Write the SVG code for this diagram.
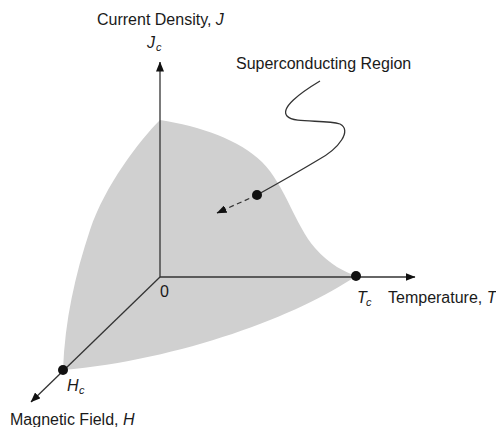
<svg xmlns="http://www.w3.org/2000/svg" width="496" height="427" viewBox="0 0 496 427">
<style>
text{font-family:"Liberation Sans",Arial,sans-serif;fill:#1a1a1a;}
.lbl{font-size:16px;}
.it{font-style:italic;}
.sub{font-size:11px;font-style:italic;}
.axis{stroke:#333;stroke-width:1.3;fill:none;}
.dot{fill:#111;}
</style>
<defs>
<marker id="ah" viewBox="0 0 10 8" refX="9.5" refY="4" markerWidth="10" markerHeight="8" markerUnits="userSpaceOnUse" orient="auto">
<path d="M0,0 L10,4 L0,8 z" fill="#111"/>
</marker>
</defs>
<g id="region">
<path d="M160,120 C200,126 240,140 262,162 C285,185 295,225 315,248 C330,265 345,272 356,276 C300,315 180,360 63,370 C65,320 75,275 90,230 C105,185 140,140 160,120 Z" fill="#d0d0d0"/>
</g>
<g id="connectors">
<line class="axis" x1="160" y1="277" x2="160" y2="62" marker-end="url(#ah)"/>
<line class="axis" x1="160" y1="277" x2="415" y2="277" marker-end="url(#ah)"/>
<line class="axis" x1="160" y1="277" x2="31" y2="402" marker-end="url(#ah)"/>
<path class="axis" d="M320,81 C300,93 280,108 287,116 C294,124 325,119 340,124 C352,130 340,148 318,160 C298,172 275,185 257,195"/>
<line class="axis" x1="257" y1="195" x2="217" y2="213" stroke-dasharray="5,3.5" marker-end="url(#ah)"/>
</g>
<g id="node-tc">
<circle class="dot" cx="356" cy="276" r="5"/>
<text x="357" y="303" class="lbl it">T</text><text x="366" y="306" class="sub">c</text>
</g>
<g id="node-hc">
<circle class="dot" cx="63" cy="370" r="5"/>
<text x="67" y="391" class="lbl it">H</text><text x="79" y="394" class="sub">c</text>
</g>
<g id="node-point">
<circle class="dot" cx="257" cy="195" r="5"/>
</g>
<g id="labels">
<text x="97" y="25" class="lbl">Current Density, <tspan class="it">J</tspan></text>
<text x="147" y="48" class="lbl it">J</text><text x="156" y="51" class="sub">c</text>
<text x="236" y="69" class="lbl">Superconducting Region</text>
<text x="160" y="297" class="lbl">0</text>
<text x="388" y="303" class="lbl">Temperature, <tspan class="it">T</tspan></text>
<text x="10" y="425" class="lbl">Magnetic Field, <tspan class="it">H</tspan></text>
</g>
</svg>
